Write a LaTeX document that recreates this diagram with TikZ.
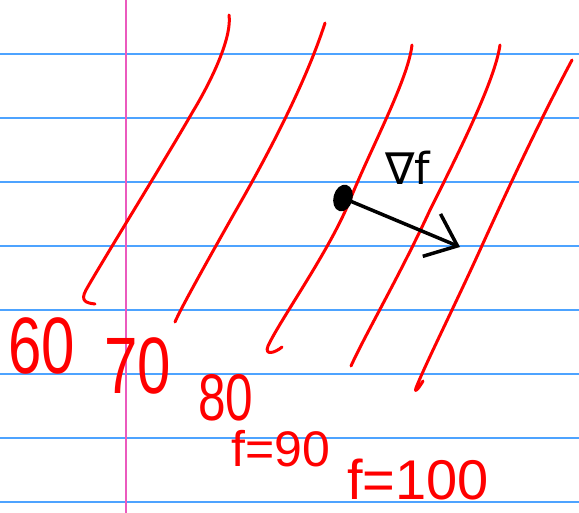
\documentclass[tikz,border=0pt]{standalone}
\usepackage{fontspec}
\newfontfamily\handfont[FakeStretch=0.75]{Liberation Sans}
\newfontfamily\eqfont{Liberation Sans}
\newfontfamily\nabfont{DejaVu Sans}
\usetikzlibrary{arrows.meta,shapes.geometric}
\definecolor{ruleblue}{RGB}{77,163,255}
\definecolor{marginpink}{RGB}{235,90,190}
\begin{document}
\begin{tikzpicture}[x=1pt, y=-1pt,
  rule/.style={ruleblue, line width=1.4pt},
  margin/.style={marginpink, line width=1.2pt},
  level/.style={red, line width=3pt, line cap=round, line join=round},
  num/.style={red, inner sep=0pt, font=\handfont\fontsize{#1}{#1}\selectfont},
  eq/.style={red, inner sep=0pt, font=\eqfont\fontsize{#1}{#1}\selectfont},
  dot/.style={ellipse, draw=black, fill=black, line width=3pt, minimum width=16pt, minimum height=24pt,
              inner sep=0pt, rotate=-15},
  grad/.style={line width=3.5pt, line cap=round, line join=round,
               -{Straight Barb[length=28pt,width=46pt]}}
]
  \path[use as bounding box] (0,0) rectangle (579,513);
  \fill[white] (0,0) rectangle (579,513);

  % Papier
  \foreach \y in {54,118,182,246,310,374,438,502}
    \draw[rule] (0,\y) -- (579,\y);
  \draw[margin] (126,0) -- (126,513);

  % Lignes de niveau
  \draw[level] (229,15) .. controls (232,35) and (215,75) .. (192,113)
    .. controls (165,160) and (100,265) .. (86,290) .. controls (80,301) and (86,303) .. (95,304);
  \draw[level] (325,23) .. controls (305,85) and (265,160) .. (235,212)
    .. controls (205,265) and (180,310) .. (175,322);
  \draw[level] (412,45) .. controls (408,80) and (370,150) .. (350,200)
    .. controls (330,250) and (280,320) .. (268,346) .. controls (264,356) and (275,353) .. (282,347);
  \draw[level] (500,45) .. controls (495,80) and (460,150) .. (430,210)
    .. controls (400,275) and (365,335) .. (351,366);
  \draw[level] (572,60) .. controls (540,120) and (505,195) .. (480,250)
    .. controls (455,305) and (425,365) .. (416,388) .. controls (414,394) and (419,388) .. (423,381);

  % Etiquettes
  \node[num=80] (l60) at (42,346) {60};
  \node[num=80] (l70) at (138,366) {70};
  \node[num=66] (l80) at (226,398) {80};
  \node[eq=50] (l90) at (281,449) {f=90};
  \node[eq=56] (l100) at (418,480) {f=100};

  % Gradient
  \node[dot] (p) at (343,198) {};
  \coordinate (g) at (460,247);
  \draw[grad] (p) -- (g);
  \node[inner sep=0pt, font=\nabfont\fontsize{44}{44}\selectfont] (nab) at (408,168) {∇f};
\end{tikzpicture}
\end{document}
